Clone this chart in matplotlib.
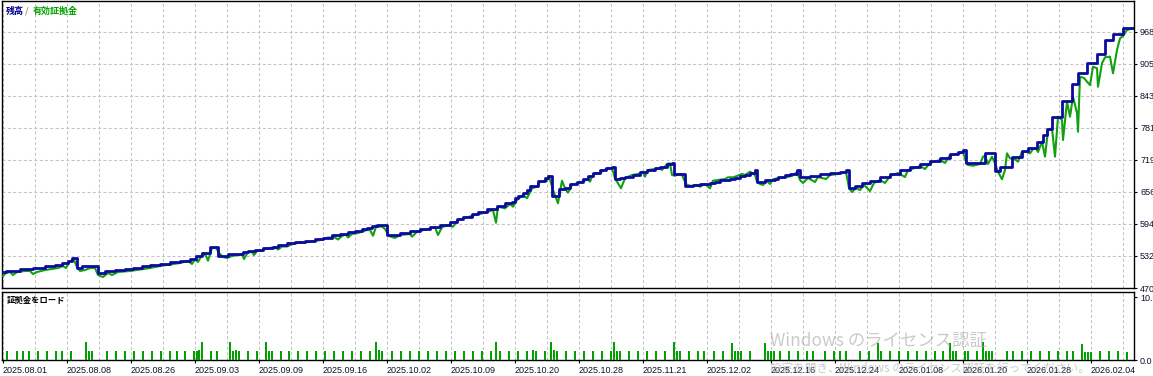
import matplotlib.pyplot as plt

plt.rcParams['font.family'] = ['Liberation Sans', 'Noto Sans CJK JP', 'DejaVu Sans']

# 残高 (balance), step line: deal number / value
balance_x = [0, 3, 17, 30, 42, 52, 59, 65, 69, 74, 79, 95, 102, 112, 122, 130, 139, 147, 157, 167,
             177, 187, 193, 199, 207, 215, 225, 240, 245, 252, 260, 270, 275, 284, 292, 302, 312, 320, 329, 337,
             345, 352, 359, 364, 369, 374, 384, 397, 407, 417, 427, 437, 447, 454, 460, 469, 475, 484, 494, 502,
             509, 512, 515, 520, 524, 527, 535, 542, 545, 549, 556, 562, 567, 574, 580, 585, 590, 597, 603, 609,
             612, 617, 622, 630, 637, 644, 652, 657, 664, 669, 671, 682, 690, 697, 707, 712, 717, 727, 732, 737,
             742, 747, 752, 754, 762, 772, 775, 782, 787, 794, 797, 807, 817, 827, 837, 843, 846, 852, 859, 867,
             877, 887, 897, 907, 917, 927, 937, 947, 955, 960, 963, 977, 982, 992, 997, 1009, 1019, 1025, 1034, 1040,
             1044, 1049, 1059, 1069, 1075, 1084, 1094, 1102, 1110, 1120, 1130]
balance = [501.1, 503.7, 506.4, 509.5, 512.8, 514.7, 518.6, 522.5, 528.4, 508.9, 512.8, 499.2, 503.1, 505.0, 507.5, 509.5, 512.2, 514.7, 517.3, 520.6,
           523.1, 527.0, 532.2, 538.7, 549.2, 532.2, 536.1, 539.4, 542.6, 543.9, 547.2, 550.3, 553.6, 557.0, 558.9, 561.4, 564.7, 566.7, 573.1, 575.0,
           578.4, 581.5, 584.2, 587.3, 591.2, 592.6, 573.1, 577.6, 580.9, 584.8, 588.7, 591.6, 598.4, 603.3, 608.7, 614.0, 618.4, 623.7, 630.1, 634.8,
           637.9, 644.5, 649.9, 654.2, 660.6, 669.0, 678.7, 684.0, 688.8, 649.0, 662.0, 665.5, 672.3, 676.8, 681.5, 687.9, 693.7, 698.6, 702.5, 705.4,
           682.0, 684.0, 686.5, 689.8, 694.7, 699.5, 702.5, 705.4, 711.2, 712.6, 692.7, 668.4, 670.4, 672.3, 674.8, 676.8, 680.1, 682.6, 684.6, 687.9,
           689.8, 693.7, 699.5, 676.2, 680.1, 682.6, 685.9, 689.2, 691.8, 699.5, 685.9, 687.9, 690.8, 693.7, 696.6, 699.5, 664.5, 668.4, 674.3, 679.1,
           685.9, 692.7, 699.5, 705.4, 711.2, 717.1, 722.9, 730.7, 735.1, 738.5, 712.2, 714.1, 732.0, 697.6, 706.0, 725.4, 736.5, 742.9, 753.4, 767.6,
           778.7, 803.2, 833.8, 866.8, 887.7, 907.1, 925.2, 952.4, 964.1, 975.2, 975.2]

# 有効証拠金 (equity)
equity_x = [0, 3, 7, 10, 14, 22, 27, 30, 34, 42, 49, 55, 60, 63, 67, 71, 74, 77, 82, 87,
            92, 95, 100, 105, 109, 115, 127, 137, 147, 157, 167, 177, 185, 189, 192, 195, 200, 203, 205, 209,
            213, 216, 220, 224, 229, 235, 239, 241, 245, 249, 251, 254, 259, 262, 272, 275, 279, 284, 292, 302,
            312, 320, 325, 332, 335, 339, 343, 345, 349, 355, 364, 367, 370, 373, 379, 382, 386, 392, 397, 407,
            409, 414, 424, 432, 435, 439, 445, 450, 455, 464, 472, 477, 485, 490, 493, 495, 502, 507, 510, 514,
            520, 524, 529, 534, 537, 544, 546, 550, 555, 559, 562, 565, 569, 574, 579, 585, 587, 589, 592, 597,
            600, 605, 609, 612, 615, 618, 622, 629, 635, 640, 642, 645, 652, 657, 659, 664, 667, 669, 672, 677,
            679, 682, 684, 689, 694, 697, 702, 707, 710, 715, 722, 725, 730, 734, 739, 742, 747, 752, 754, 757,
            760, 764, 767, 770, 775, 782, 789, 794, 797, 800, 805, 812, 815, 823, 827, 835, 843, 846, 849, 853,
            857, 861, 867, 871, 877, 882, 887, 895, 902, 905, 912, 917, 922, 927, 937, 942, 947, 957, 960, 963,
            965, 970, 977, 980, 982, 985, 989, 992, 995, 999, 1002, 1004, 1007, 1012, 1015, 1019, 1024, 1027, 1030, 1033,
            1035, 1039, 1042, 1045, 1049, 1052, 1055, 1059, 1060, 1064, 1067, 1070, 1074, 1075, 1077, 1081, 1084, 1087, 1090, 1094,
            1095, 1099, 1102, 1107, 1110, 1114, 1117, 1120, 1124, 1130]
equity = [493.3, 499.2, 501.1, 495.3, 501.1, 503.1, 503.1, 497.2, 501.1, 505.0, 507.0, 508.9, 512.8, 508.9, 522.5, 524.5, 510.9, 503.1, 505.0, 508.9,
          508.9, 495.3, 491.4, 499.2, 495.3, 501.1, 503.1, 506.0, 508.9, 512.8, 515.7, 518.6, 522.5, 516.7, 526.4, 520.6, 538.1, 532.2, 523.1, 547.8,
          547.8, 538.1, 530.3, 528.4, 532.2, 534.2, 536.1, 526.4, 540.0, 540.0, 534.2, 542.0, 542.0, 545.9, 549.8, 544.9, 550.7, 550.7, 557.5, 558.5,
          561.4, 564.3, 568.2, 568.2, 564.3, 571.2, 574.1, 568.2, 575.0, 577.0, 582.8, 582.8, 571.7, 588.7, 589.6, 584.8, 571.2, 567.3, 573.1, 575.0,
          569.8, 579.5, 584.2, 588.1, 573.1, 588.1, 592.6, 589.2, 602.3, 607.5, 612.0, 614.0, 618.4, 621.7, 597.0, 628.2, 625.0, 633.4, 628.2, 641.2,
          650.9, 644.5, 663.9, 667.1, 676.8, 678.7, 687.9, 660.6, 634.8, 678.7, 663.9, 655.4, 670.4, 673.7, 676.8, 681.5, 676.8, 686.5, 693.1, 693.1,
          698.2, 702.9, 702.9, 683.4, 673.7, 663.9, 683.4, 689.8, 691.8, 696.2, 686.5, 699.5, 701.5, 702.9, 699.5, 711.2, 712.6, 689.8, 688.5, 691.8,
          689.8, 676.8, 670.4, 668.4, 670.4, 667.1, 672.3, 663.9, 678.7, 680.1, 682.0, 685.3, 685.3, 687.9, 691.8, 689.8, 696.2, 689.8, 676.8, 672.3,
          670.4, 678.1, 672.3, 681.5, 683.4, 685.3, 687.9, 695.7, 680.1, 674.3, 684.0, 676.2, 685.9, 682.0, 689.8, 691.8, 695.7, 664.5, 656.7, 664.5,
          660.6, 670.4, 658.7, 674.3, 680.1, 674.3, 687.9, 693.7, 685.9, 699.5, 703.4, 707.3, 701.5, 713.2, 719.0, 713.2, 728.7, 732.0, 734.6, 715.7,
          709.3, 707.9, 711.2, 725.4, 727.4, 711.2, 725.4, 712.6, 696.2, 681.5, 699.5, 732.0, 722.3, 720.4, 715.7, 735.1, 734.6, 732.0, 740.4, 741.4,
          734.6, 754.6, 725.4, 777.4, 780.7, 725.4, 803.2, 796.8, 757.9, 832.4, 803.2, 842.1, 810.4, 774.0, 881.0, 878.5, 871.3, 864.9, 900.5, 897.4,
          861.6, 907.1, 918.8, 920.0, 887.7, 933.0, 955.7, 960.2, 971.9, 975.2]

# 証拠金をロード
load_x = [4, 14, 20, 26, 35, 44, 53, 59, 68, 83, 86, 89, 104, 113, 122, 131, 140, 149, 158, 167,
          174, 182, 191, 194, 196, 199, 208, 214, 227, 230, 233, 236, 245, 254, 263, 266, 269, 278, 286, 295,
          304, 313, 322, 331, 340, 349, 358, 367, 373, 376, 379, 389, 398, 407, 416, 425, 434, 443, 452, 461,
          470, 479, 488, 493, 497, 506, 515, 524, 530, 533, 542, 548, 551, 554, 563, 572, 581, 590, 599, 608,
          611, 614, 617, 626, 635, 644, 653, 662, 671, 674, 677, 686, 695,
          701, 711, 720, 729, 732, 735, 738, 747, 762, 765, 768, 771, 777, 786, 795, 804, 810, 822, 831, 837,
          843, 857, 866, 875, 878, 887, 896, 905, 914, 923, 932, 940, 947, 950, 953, 962, 965, 974, 980, 983,
          986, 989, 1004, 1010, 1019, 1028, 1037, 1046, 1055, 1064, 1070, 1079, 1082, 1085, 1088, 1097, 1106, 1115, 1124]
load = [1.4, 1.4, 1.4, 1.4, 1.4, 1.4, 1.4, 1.4, 1.4, 2.8, 1.4, 1.4, 1.4, 1.4, 1.4, 1.4, 1.4, 1.4, 1.4, 1.4,
        1.4, 1.4, 1.4, 1.4, 1.6, 2.8, 1.4, 1.4, 2.8, 1.4, 1.6, 1.4, 1.4, 1.4, 2.8, 1.4, 1.4, 1.4, 1.4, 1.4,
        1.4, 1.4, 1.4, 1.4, 1.4, 1.4, 1.4, 1.4, 2.8, 1.6, 1.4, 1.4, 1.4, 1.4, 1.4, 1.4, 1.4, 1.4, 1.4, 1.4,
        1.4, 1.4, 1.4, 2.8, 1.4, 1.4, 1.4, 1.4, 1.6, 1.4, 1.4, 2.8, 1.6, 1.4, 1.4, 1.4, 1.4, 1.4, 1.4, 1.4,
        2.8, 1.4, 1.4, 1.4, 1.4, 1.4, 1.4, 1.4, 2.8, 1.4, 1.4, 1.4, 1.4,
        1.4, 1.4, 1.4, 2.7, 1.4, 1.4, 1.4, 1.4, 2.7, 1.4, 1.4, 1.4, 1.4, 1.4, 1.4, 1.4, 1.4, 1.4, 1.4, 1.4,
        1.4, 1.4, 1.4, 2.7, 1.4, 1.4, 1.4, 1.4, 1.4, 1.4, 1.4, 1.4, 2.7, 1.4, 1.4, 1.4, 1.4, 1.4, 2.8, 1.5,
        1.5, 1.5, 1.4, 1.4, 1.4, 1.4, 1.4, 1.4, 1.4, 1.4, 1.4, 2.5, 1.3, 1.3, 1.3, 1.4, 1.4, 1.4, 1.3]

dates = ["2025.08.01", "2025.08.08", "2025.08.26", "2025.09.03", "2025.09.09", "2025.09.16",
         "2025.10.02", "2025.10.09", "2025.10.20", "2025.10.28", "2025.11.21", "2025.12.02",
         "2025.12.16", "2025.12.24", "2026.01.08", "2026.01.20", "2026.01.28", "2026.02.04"]
levels = [470, 532.25, 594.5, 656.75, 719, 781.25, 843.5, 905.75, 968]

blue = '#0b0b9e'
green = '#10a010'
txt = '#101030'
grid_style = dict(color='#c4c4c4', linestyle=(0, (2.9, 2.2)), linewidth=0.75)
cjk = ['Noto Sans CJK JP', 'DejaVu Sans']

W, H = 1153, 376
fig = plt.figure(figsize=(W / 100, H / 100), dpi=100)
ax = fig.add_axes([2 / W, 1 - 288 / H, 1132 / W, 287 / H])
ax2 = fig.add_axes([2 / W, 1 - 360 / H, 1132 / W, 68 / H])

ax.plot(equity_x, equity, color=green, lw=1.5, zorder=3)
ax.plot(balance_x, balance, color=blue, lw=2.0, drawstyle='steps-post', zorder=4)
ax2.bar(load_x, load, width=2.2, color='#00a000', zorder=3)

major = list(range(0, 1089, 64))
minor = list(range(32, 1121, 64))
for a in (ax, ax2):
    a.set_xlim(-1, 1131)
    a.set_xticks(major)
    a.set_xticks(minor, minor=True)
    a.grid(True, axis='x', which='both', **grid_style)
    a.set_axisbelow(True)
    for s in a.spines.values():
        s.set_linewidth(1.0)
        s.set_color('black')
    a.yaxis.tick_right()
    a.tick_params(axis='y', direction='out', length=2.2, width=0.8, pad=2.2,
                  labelsize=6.5, labelcolor=txt)
    a.tick_params(axis='x', which='minor', length=0)

ax.set_ylim(470, 1028.3)
ax.set_yticks(levels)
ax.set_yticklabels([str(int(v)) for v in levels])
ax.grid(True, axis='y', **grid_style)
ax.tick_params(axis='x', which='both', length=0, labelbottom=False)

ax2.set_ylim(0, 10.8)
ax2.set_yticks([0, 10])
ax2.set_yticklabels(["0.0", "10.0"])
ax2.set_xticklabels(dates)
ax2.tick_params(axis='x', which='major', direction='out', length=2.5, width=0.8, pad=1.5,
                labelsize=6.5, labelcolor=txt)
for lab in ax2.get_xticklabels():
    lab.set_horizontalalignment('left')

fig.text(6 / W, 1 - 11 / H, "残高", color='#00008b', fontsize=6.5, family=cjk,
         fontweight='bold', va='center')
fig.text(25 / W, 1 - 11 / H, "/", color='#806040', fontsize=6.5, family=cjk, va='center')
fig.text(33 / W, 1 - 11 / H, "有効証拠金", color='#00a000', fontsize=6.5, family=cjk,
         fontweight='bold', va='center')
fig.text(7 / W, 1 - 300 / H, "証拠金をロード", color='black', fontsize=6, family=cjk,
         fontweight='bold', va='center')

fig.text(770 / W, 1 - 341 / H, "Windows のライセンス認証", color='#a8a8a8', alpha=0.6,
         fontsize=12.5, family=cjk, va='center', zorder=10)
fig.text(770 / W, 1 - 368 / H, "設定を開き、Windows のライセンス認証を行ってください。", color='#a8a8a8',
         alpha=0.6, fontsize=8.4, family=cjk, va='center', zorder=10)

fig.savefig("out.png", dpi=100)
